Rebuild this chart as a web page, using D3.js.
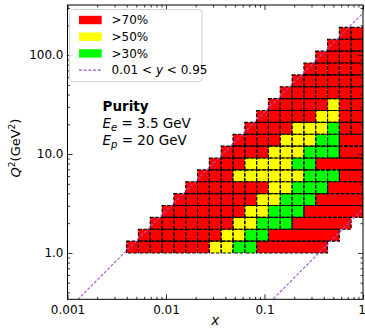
<!DOCTYPE html>
<html lang="en">
<head>
<meta charset="UTF-8">
<title>Purity</title>
<script src="https://d3js.org/d3.v7.min.js"></script>
<style>
    body { margin: 0; background: #fff; }
    svg { display: block; font-family: "DejaVu Sans", sans-serif; }
</style>
</head>
<body>
<svg id="chart" width="365" height="330"></svg>
<script>
// bin edges in x and in Q^2 (GeV^2)
const xEdges = [0.003981, 0.005248, 0.006918, 0.009120, 0.012023, 0.015849, 0.020893,
    0.027542, 0.036308, 0.047863, 0.063096, 0.083176, 0.109648, 0.144544, 0.190546,
    0.251189, 0.331131, 0.436516, 0.575440, 0.758578, 1.0];
const q2Edges = [1.0, 1.3183, 1.7378, 2.2909, 3.0200, 3.9811, 5.2481, 6.9183, 9.1201,
    12.023, 15.849, 20.893, 27.542, 36.308, 47.863, 63.096, 83.176, 109.65, 144.54, 190.55];

// purity class per bin, one string per Q^2 row, lowest row first
// R/Y/G: >70/>50/>30 %, r: >70 % drawn without vertical edges, '.': no entry
const purityRows = [
    "RRRRRRRYYGGrrrrrr...",
    ".RRRRRRRYYGGrrrrrr..",
    "..RRRRRRRYYGGGrrrrr.",
    "...RRRRRRRYYGGGrrrrr",
    "....RRRRRRRYYGGGrrrr",
    ".....RRRRRRRYYGGGrrr",
    "......RRRYYYYYYGGGrr",
    ".......RRRYYYYGGrrrr",
    "........RRRRYYYGGGrr",
    ".........RRRRYYYGGrr",
    "..........RRRRYYYGRR",
    "...........RRRRRYYRR",
    "............RRRRRYRR",
    ".............RRRRRRR",
    "..............RRRRRR",
    "...............RRRRR",
    "................RRRR",
    ".................RRR",
    "..................RR"
];

const classKeys = ["R", "Y", "G"];
const classLabels = [">70%", ">50%", ">30%"];
const classColors = ["#ff0000", "#ffff00", "#00ff00"];

// beam energies (GeV) and inelasticity cuts
const beamEe = 3.5, beamEp = 20;
const yCuts = [0.01, 0.95];

const xTicks = [0.001, 0.01, 0.1, 1];
const xTickLabels = ["0.001", "0.01", "0.1", "1"];
const yTicks = [1, 10, 100];
const yTickLabels = ["1.0", "10.0", "100.0"];

const svg = d3.select("#chart");
const pLeft = 67.5, pRight = 363, pTop = 5, pBottom = 299.3;
const cutColor = "#a84fc8";

const x = d3.scaleLog().domain([0.001, 1]).range([pLeft, pRight]);
const y = d3.scaleLog().domain([0.34, 321]).range([pBottom, pTop]);

const colorOf = k => classColors[classKeys.indexOf(k.toUpperCase())];

svg.append("defs").append("clipPath").attr("id", "plotClip")
    .append("rect").attr("x", pLeft).attr("y", pTop)
    .attr("width", pRight - pLeft).attr("height", pBottom - pTop);

const plot = svg.append("g").attr("clip-path", "url(#plotClip)");

// split each row into outlined cells and open spans
const cells = [], spans = [];
purityRows.forEach((row, i) => {
    let j = 0;
    while (j < row.length) {
        const k = row[j];
        if (k === ".") { j++; continue; }
        if (k === "r") {
            let e = j;
            while (e + 1 < row.length && row[e + 1] === "r") e++;
            spans.push({ i, j0: j, j1: e + 1, k });
            j = e + 1;
        } else {
            cells.push({ i, j0: j, j1: j + 1, k });
            j++;
        }
    }
});
const all = cells.concat(spans);

const rowStep = q2Edges[1] / q2Edges[0];
const cellX = d => x(xEdges[d.j0]);
const cellW = d => x(xEdges[d.j1]) - x(xEdges[d.j0]);
const cellY = d => y(q2Edges[d.i + 1] || q2Edges[d.i] * rowStep);
const cellH = d => y(q2Edges[d.i]) - cellY(d);

plot.selectAll("rect.fill")
    .data(all)
    .enter().append("rect")
    .attr("class", "fill")
    .attr("x", cellX).attr("y", cellY)
    .attr("width", cellW).attr("height", cellH)
    .attr("fill", d => colorOf(d.k));

plot.selectAll("rect.edge")
    .data(all)
    .enter().append("rect")
    .attr("class", "edge")
    .attr("x", cellX).attr("y", cellY)
    .attr("width", cellW).attr("height", cellH)
    .attr("fill", "none")
    .attr("stroke", "#000")
    .attr("stroke-width", 1.1)
    .attr("stroke-dasharray", "3.5,1.6");

// kinematic limits Q^2 = s x y
const s = 4 * beamEe * beamEp;
const xLine = [0.0005, 2];
yCuts.forEach(yc => {
    plot.append("path")
        .datum(xLine)
        .attr("d", d3.line().x(v => x(v)).y(v => y(s * v * yc)))
        .attr("fill", "none")
        .attr("stroke", cutColor)
        .attr("stroke-width", 1.1)
        .attr("stroke-dasharray", "3,1.7");
});

// axes with inward ticks on all sides
const minor = [];
[0.0001, 0.001, 0.01, 0.1, 1, 10, 100].forEach(p => {
    for (let m = 2; m <= 9; m++) minor.push(p * m);
});
const xMinor = minor.filter(v => v > 0.001 && v < 1);
const yMinor = minor.filter(v => v > 0.34 && v < 321);

function axis(gen, scale, vals, size, pos, fmt) {
    const g = svg.append("g")
        .attr("transform", pos)
        .call(gen(scale).tickValues(vals).tickSize(-size).tickPadding(4)
            .tickFormat(fmt || (() => "")));
    g.select(".domain").remove();
    g.selectAll("line").attr("stroke", "#000").attr("stroke-width", 0.8);
    return g;
}

const xAxis = axis(d3.axisBottom, x, xTicks, 5, `translate(0,${pBottom})`,
    (d, i) => xTickLabels[i]);
xAxis.selectAll("text").attr("font-size", 12).attr("fill", "#000")
    .attr("font-family", "DejaVu Sans").attr("dy", "0.92em");
// the last label sits on the figure edge
xAxis.selectAll("text").filter(d => d === 1).attr("dx", -1.5);
axis(d3.axisBottom, x, xMinor, 2.5, `translate(0,${pBottom})`);
axis(d3.axisTop, x, xTicks, 5, `translate(0,${pTop})`);
axis(d3.axisTop, x, xMinor, 2.5, `translate(0,${pTop})`);

const yAxis = axis(d3.axisLeft, y, yTicks, 5, `translate(${pLeft},0)`,
    (d, i) => yTickLabels[i]);
yAxis.selectAll("text").attr("font-size", 12).attr("fill", "#000")
    .attr("font-family", "DejaVu Sans").attr("dy", "0.3em");
axis(d3.axisLeft, y, yMinor, 2.5, `translate(${pLeft},0)`);
axis(d3.axisRight, y, yTicks, 5, `translate(${pRight},0)`);
axis(d3.axisRight, y, yMinor, 2.5, `translate(${pRight},0)`);

svg.append("rect")
    .attr("x", pLeft).attr("y", pTop)
    .attr("width", pRight - pLeft).attr("height", pBottom - pTop)
    .attr("fill", "none").attr("stroke", "#000").attr("stroke-width", 1);

// axis titles
svg.append("text")
    .attr("x", (pLeft + pRight) / 2).attr("y", 325)
    .attr("text-anchor", "middle").attr("font-size", 13.5)
    .attr("font-style", "italic").text("x");

const yTitle = svg.append("text")
    .attr("transform", "translate(19.5,148) rotate(-90)")
    .attr("text-anchor", "middle").attr("font-size", 13);
yTitle.append("tspan").attr("font-style", "italic").text("Q");
yTitle.append("tspan").attr("font-size", 9).attr("dy", -5).text("2");
yTitle.append("tspan").attr("dy", 5).text("(GeV");
yTitle.append("tspan").attr("font-size", 9).attr("dy", -5).text("2");
yTitle.append("tspan").attr("dy", 5).text(")");

// legend
const legend = svg.append("g");
legend.append("rect")
    .attr("x", 69.5).attr("y", 9.5).attr("width", 132.5).attr("height", 72)
    .attr("rx", 3).attr("fill", "#fff").attr("fill-opacity", 0.8)
    .attr("stroke", "#d0d0d0").attr("stroke-width", 1);

classLabels.forEach((lab, i) => {
    const cy = 20 + i * 16.7;
    legend.append("rect")
        .attr("x", 79).attr("y", cy - 4.2).attr("width", 22.7).attr("height", 8.4)
        .attr("fill", classColors[i]);
    legend.append("text")
        .attr("x", 111.5).attr("y", cy + 4.3).attr("font-size", 12).text(lab);
});
const lineY = 20 + 3 * 16.7;
legend.append("line")
    .attr("x1", 79).attr("x2", 101.7).attr("y1", lineY).attr("y2", lineY)
    .attr("stroke", cutColor).attr("stroke-width", 1.1).attr("stroke-dasharray", "3,1.7");
const cutText = legend.append("text")
    .attr("x", 111.5).attr("y", lineY + 4.3).attr("font-size", 12);
cutText.append("tspan").text(`${yCuts[0]} < `);
cutText.append("tspan").attr("font-style", "italic").text("y");
cutText.append("tspan").text(` < ${yCuts[1]}`);

// run annotation
const note = svg.append("g").attr("font-size", 13.5);
note.append("text").attr("x", 102.5).attr("y", 111)
    .attr("font-weight", "bold").text("Purity");
[["e", beamEe], ["p", beamEp]].forEach(([sub, val], i) => {
    const t = note.append("text").attr("x", 102.5).attr("y", 128 + i * 17);
    t.append("tspan").attr("font-style", "italic").text("E");
    t.append("tspan").attr("font-style", "italic").attr("font-size", 10)
        .attr("dy", 3).text(sub);
    t.append("tspan").attr("dy", -3).text(` = ${val} GeV`);
});
</script>
</body>
</html>
